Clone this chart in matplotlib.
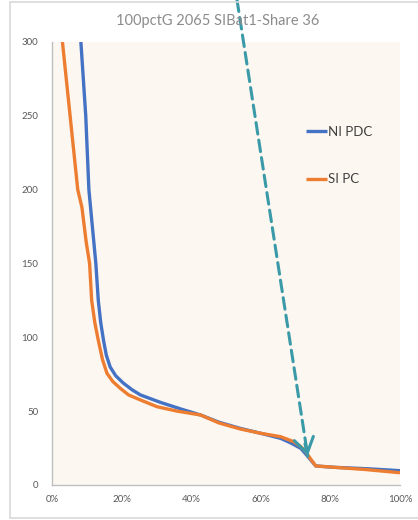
import matplotlib
matplotlib.use("Agg")
import matplotlib.pyplot as plt
from matplotlib.patches import Rectangle

plt.rcParams['font.family'] = ['Lato', 'DejaVu Sans']

# Share of hours (%) vs. price, sorted duration curves
ni_pdc_x = [8.3, 9.7, 10.6, 11.6, 12.6, 13.3, 14.0, 14.8, 15.6, 16.7, 18.3, 20.5, 23.0, 25.4,
            31.1, 37.0, 42.7, 48.0, 54.0, 60.0, 65.7, 68.6, 71.5, 72.9, 74.5, 75.8, 81.0, 90.7, 100.0]
ni_pdc_y = [300, 250, 200, 175, 150, 125, 110, 98, 88, 80, 74, 69, 64.5, 61,
            56, 51.5, 47.4, 42.5, 38.4, 35, 31.6, 28.5, 24.8, 21, 16.5, 12.9, 12, 11, 9.7]

si_pc_x = [3.0, 5.2, 7.4, 8.6, 9.8, 10.8, 11.4, 12.3, 13.3, 14.5, 15.8, 17.5, 19.6, 22.0, 25.4,
           30.2, 36.0, 42.7, 48.0, 54.0, 60.0, 65.7, 69.5, 71.5, 72.9, 74.5, 75.8, 81.0, 90.0, 100.0]
si_pc_y = [300, 250, 200, 188, 165, 150, 125, 110, 98, 85, 75.6, 70, 65.5, 61, 57.6,
           53, 50, 47.4, 42, 38, 35, 32.7, 29.3, 26, 22.5, 17, 12.9, 12, 10.5, 8.3]

y_ticks = [0, 50, 100, 150, 200, 250, 300]
x_ticks = [0, 20, 40, 60, 80, 100]
x_tick_labels = ["0%", "20%", "40%", "60%", "80%", "100%"]

title = "100pctG 2065 SIBat1-Share 36"
arrow_tip = (73.5, 19.5)

W, H = 418, 520
fig = plt.figure(figsize=(W / 100, H / 100), dpi=100)
fig.patch.set_facecolor("white")

# outer chart frame
fig.add_artist(Rectangle((10 / W, 1 - 518 / H), (W - 9) / W, (516) / H,
                         transform=fig.transFigure, fill=False,
                         edgecolor="#d9d9d9", lw=1.2))

ax = fig.add_axes([52 / W, 1 - 485 / H, 348 / W, 443 / H])
ax.set_facecolor("#fdf7f1")

ax.plot(ni_pdc_x, ni_pdc_y, color="#4472c4", lw=2.4, label="NI PDC", solid_capstyle="butt")
ax.plot(si_pc_x, si_pc_y, color="#ed7d31", lw=2.4, label="SI PC", solid_capstyle="butt")

ax.set_xlim(0, 100)
ax.set_ylim(0, 300)
ax.set_yticks(y_ticks)
ax.set_xticks(x_ticks)
ax.set_xticklabels(x_tick_labels)
ax.tick_params(length=0, labelsize=7, colors="#595959")
ax.tick_params(axis="y", pad=10)
ax.tick_params(axis="x", pad=7)
for s in ("top", "right"):
    ax.spines[s].set_visible(False)
for s in ("left", "bottom"):
    ax.spines[s].set_color("#bfbfbf")
    ax.spines[s].set_linewidth(1.0)

fig.text(218 / W, 1 - 21 / H, title, ha="center", va="center",
         fontsize=10.5, color="#8c8c8c")

leg = ax.legend(loc="upper left", bbox_to_anchor=(0.695, 0.838), frameon=False,
                fontsize=9.5, labelspacing=2.7, handlelength=1.6, handletextpad=0.1,
                labelcolor="#404040")

# dashed pointer into the drop near 73%
teal = "#3a9aa8"
start = (237 / W, 1.0)
ax.annotate("", xy=arrow_tip, xycoords="data", xytext=start, textcoords="figure fraction",
            arrowprops=dict(arrowstyle="-", color=teal, lw=2.2, linestyle=(0, (3.8, 2)),
                            shrinkA=0, shrinkB=0),
            annotation_clip=False, zorder=10)
ax.annotate("", xy=arrow_tip, xycoords="data",
            xytext=(arrow_tip[0] - 0.8, arrow_tip[1] + 8.5), textcoords="data",
            arrowprops=dict(arrowstyle="->,head_length=1.1,head_width=0.7", color=teal,
                            lw=2.2, shrinkA=0, shrinkB=0),
            annotation_clip=False, zorder=10)

fig.savefig("out.png", dpi=100)
